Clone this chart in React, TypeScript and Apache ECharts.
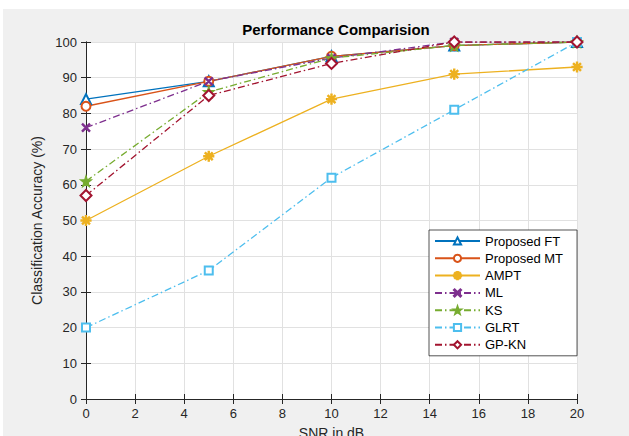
import React, { useEffect, useRef } from "react";
import * as echarts from "echarts";

const snr = [0, 5, 10, 15, 20];
const proposedFT = [84, 89, 96, 99, 100];
const proposedMT = [82, 89, 96, 99, 100];
const ampt = [50, 68, 84, 91, 93];
const ml = [76, 89, 95.5, 100, 100];
const ks = [61, 86, 95.5, 99, 100];
const glrt = [20, 36, 62, 81, 100];
const gpkn = [57, 85, 94, 100, 100];

const xTicks = { min: 0, max: 20, interval: 2 };
const yTicks = { min: 0, max: 100, interval: 10 };

const ASTERISK =
  "path://M-0.12,-1 L0.12,-1 L0.12,1 L-0.12,1 Z M-1,-0.12 L1,-0.12 L1,0.12 L-1,0.12 Z " +
  "M0.792,0.622 L0.622,0.792 L-0.792,-0.622 L-0.622,-0.792 Z M-0.792,0.622 L-0.622,0.792 L0.792,-0.622 L0.622,-0.792 Z";
const XMARK =
  "path://M0.792,0.622 L0.622,0.792 L-0.792,-0.622 L-0.622,-0.792 Z M-0.792,0.622 L-0.622,0.792 L0.792,-0.622 L0.622,-0.792 Z";
const STAR =
  "path://M0,-1 L0.235,-0.324 L0.951,-0.309 L0.38,0.124 L0.588,0.809 L0,0.4 L-0.588,0.809 L-0.38,0.124 L-0.951,-0.309 L-0.235,-0.324 Z";

const DASHDOT = [7, 3, 1.5, 3];

export default function App() {
  const ref = useRef<HTMLDivElement>(null);
  useEffect(() => {
    document.body.style.margin = "0";
    const chart = echarts.init(ref.current!, null, { renderer: "svg" });
    const font = "'Liberation Sans', Arial, sans-serif";
    const mk = (
      name: string,
      vals: number[],
      color: string,
      symbol: string,
      size: number,
      dash: any
    ) => ({
      name,
      type: "line",
      data: snr.map((x, i) => [x, vals[i]]),
      symbol,
      symbolSize: size,
      showAllSymbol: true,
      color,
      itemStyle: { color, borderColor: color, borderWidth: 1.2 },
      lineStyle: { color, width: 1.3, type: dash },
      emphasis: { disabled: true },
    });
    const baseAxis = {
      axisLine: { show: true, lineStyle: { color: "#262626", width: 1 } },
      axisTick: { show: true, inside: true, length: 5, lineStyle: { color: "#262626" } },
    };
    chart.setOption({
      animation: false,
      backgroundColor: "transparent",
      title: {
        text: "Performance Comparision",
        left: 331,
        textAlign: "center",
        top: 17,
        textStyle: { fontFamily: font, fontSize: 15, fontWeight: "bold", color: "#000" },
      },
      grid: {
        left: 86,
        right: 52,
        top: 42,
        bottom: 37,
        outerBoundsMode: "none",
        containLabel: false,
        show: true,
        backgroundColor: "#fff",
        borderWidth: 0,
      },
      legend: {
        orient: "vertical",
        left: 429,
        top: 230,
        padding: [4, 14, 4, 5],
        itemWidth: 45,
        itemHeight: 9,
        itemGap: 3.3,
        backgroundColor: "#fff",
        borderColor: "#262626",
        borderWidth: 0.8,
        textStyle: { fontFamily: font, fontSize: 13, color: "#000", lineHeight: 14 },
        data: ["Proposed FT", "Proposed MT", "AMPT", "ML", "KS", "GLRT", "GP-KN"],
      },
      xAxis: [
        {
          type: "value",
          ...xTicks,
          position: "bottom",
          ...baseAxis,
          name: "SNR in dB",
          nameLocation: "middle",
          nameGap: 27,
          nameTextStyle: { fontFamily: font, fontSize: 14, color: "#262626" },
          axisLabel: { fontFamily: font, fontSize: 13, color: "#262626", margin: 8 },
          splitLine: { show: true, lineStyle: { color: "#e1e1e1", width: 1 } },
        },
        {
          type: "value",
          ...xTicks,
          position: "top",
          ...baseAxis,
          axisLabel: { show: false },
          splitLine: { show: false },
        },
      ],
      yAxis: [
        {
          type: "value",
          ...yTicks,
          position: "left",
          ...baseAxis,
          name: "Classification Accuracy (%)",
          nameLocation: "middle",
          nameGap: 40,
          nameTextStyle: { fontFamily: font, fontSize: 14, color: "#262626" },
          axisLabel: { fontFamily: font, fontSize: 13, color: "#262626", margin: 9 },
          splitLine: { show: true, lineStyle: { color: "#e1e1e1", width: 1 } },
        },
        {
          type: "value",
          ...yTicks,
          position: "right",
          ...baseAxis,
          axisLabel: { show: false },
          splitLine: { show: false },
        },
      ],
      series: [
        mk("Proposed FT", proposedFT, "#0072BD", "emptyTriangle", 10, "solid"),
        mk("Proposed MT", proposedMT, "#D95319", "emptyCircle", 9, "solid"),
        mk("AMPT", ampt, "#EDB120", ASTERISK, 10, "solid"),
        mk("ML", ml, "#7E2F8E", XMARK, 8, DASHDOT),
        mk("KS", ks, "#77AC30", STAR, 11, DASHDOT),
        mk("GLRT", glrt, "#4DBEEE", "emptyRect", 8, DASHDOT),
        mk("GP-KN", gpkn, "#A2142F", "emptyDiamond", 11, DASHDOT),
      ],
    });
    return () => chart.dispose();
  }, []);
  return (
    <div style={{ position: "relative", width: 629, height: 436, background: "#fff", overflow: "hidden" }}>
      <div style={{ position: "absolute", left: 3, top: 9, right: 0, bottom: 0, background: "#f0f0f0" }} />
      <div ref={ref} style={{ position: "absolute", left: 0, top: 0, width: 629, height: 436 }} />
    </div>
  );
}
